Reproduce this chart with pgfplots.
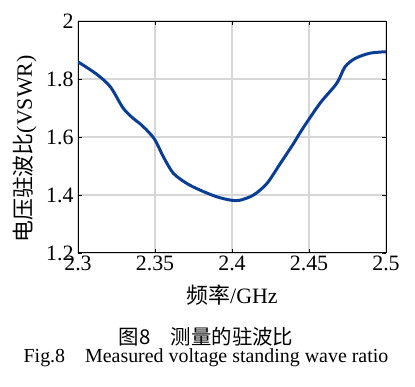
\documentclass[border=0pt]{standalone}
\usepackage{fontspec}
\setmainfont{Liberation Serif}
\newfontfamily\cjk{Noto Sans CJK SC}
\usepackage{pgfplots}
\pgfplotsset{compat=1.18}
\definecolor{curve}{RGB}{10,62,148}
\definecolor{gridc}{RGB}{215,215,215}
\begin{document}
\begin{tikzpicture}[x=1bp,y=1bp]
\useasboundingbox (0,0) rectangle (415,387);
\begin{axis}[
  at={(78bp,134bp)}, anchor=south west,
  scale only axis, width=308bp, height=232bp,
  xmin=2.3, xmax=2.5, ymin=1.2, ymax=2,
  xtick={2.3,2.35,2.4,2.45,2.5},
  ytick={1.2,1.4,1.6,1.8,2},
  xticklabels={2.3,2.35,2.4,2.45,2.5},
  yticklabels={1.2,1.4,1.6,1.8,2},
  tick align=inside,
  major tick length=4bp,
  tick style={black, line width=0.8bp},
  axis line style={black, line width=1bp},
  grid=major,
  grid style={gridc, line width=1.3bp},
  ticklabel style={font=\fontsize{22}{24}\selectfont},
  xticklabel style={yshift=1bp},
  yticklabel style={xshift=-1bp},
  /pgf/number format/assume math mode=true,
]
\addplot[curve, line width=3bp, smooth, tension=0.5] coordinates {
(2.300,1.859)
(2.312,1.817)
(2.321,1.773)
(2.3294,1.699)
(2.3359,1.664)
(2.340,1.647)
(2.3446,1.624)
(2.350,1.590)
(2.3554,1.532)
(2.3619,1.475)
(2.3706,1.440)
(2.3792,1.417)
(2.390,1.394)
(2.3994,1.382)
(2.4052,1.382)
(2.414,1.400)
(2.4227,1.440)
(2.4314,1.509)
(2.440,1.578)
(2.4453,1.624)
(2.4571,1.716)
(2.468,1.785)
(2.4734,1.842)
(2.480,1.871)
(2.4896,1.889)
(2.500,1.894)
};
\end{axis}
\node[rotate=90, font=\fontsize{22}{24}\selectfont] at (25,238) {{\cjk 电压驻波比}(VSWR)};
\node[font=\fontsize{22}{24}\selectfont] at (232,92) {{\cjk 频率}/GHz};
\node[font=\fontsize{20.5}{24}\selectfont\cjk] at (206,50) {图8\hspace{1em}测量的驻波比};
\node[font=\fontsize{20}{24}\selectfont] at (206,29) {Fig.8\hspace{1em}Measured voltage standing wave ratio};
\end{tikzpicture}
\end{document}
